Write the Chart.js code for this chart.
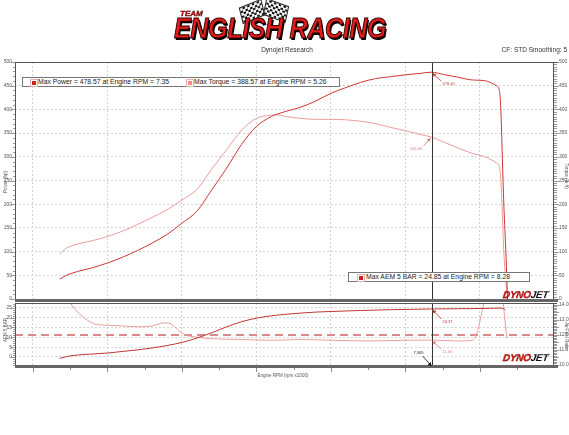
<!DOCTYPE html>
<html>
<head>
<meta charset="utf-8">
<script src="https://cdn.jsdelivr.net/npm/chart.js@4.4.0/dist/chart.umd.min.js"></script>
<style>
body { margin: 0; width: 569px; height: 435px; background: #fff; position: relative; overflow: hidden; font-family: "Liberation Sans", Arial, sans-serif; }
canvas { position: absolute; left: 0; top: 0; }
.t { position: absolute; white-space: nowrap; color: #333; }
.rot { transform: translate(-50%, -50%) rotate(-90deg); font-size: 4.5px; color: #555; }
.rotR { transform: translate(-50%, -50%) rotate(90deg); font-size: 4.5px; color: #555; }
.legend { position: absolute; background: #fff; border: 1px solid #777; box-sizing: border-box; }
.legend .mk { position: absolute; top: 1px; width: 6px; height: 6px; border: 1px solid #e4b0b0; background: #fff; }
.legend .mk i { position: absolute; left: 1px; top: 1px; width: 4px; height: 4px; }
.legend .lt { position: absolute; top: 0; font-size: 6.8px; line-height: 8px; color: #222; }
.dj { position: absolute; font-weight: bold; font-style: italic; font-size: 10px; line-height: 10px; letter-spacing: -0.3px; transform: skewX(-8deg); }
.dj b { color: #e01818; -webkit-text-stroke: 0.3px #600; }
.dj span { color: #111; }
.logo { position: absolute; left: 174px; top: 14px; font-weight: bold; font-style: italic; font-size: 28px; line-height: 28px; color: #e21b1b; -webkit-text-stroke: 1px #2a0000; text-shadow: 1.5px 1.5px 0 #000; transform-origin: 0 0; transform: scale(0.9, 1.05); letter-spacing: -0.5px; }
.team { position: absolute; left: 180px; top: 9px; font-weight: bold; font-style: italic; font-size: 8px; color: #e21b1b; -webkit-text-stroke: 0.4px #300; }
.flag { position: absolute; width: 22px; height: 15px; background: repeating-conic-gradient(#111 0 25%, #f4f4f4 0 50%) 0 0 / 5px 5px; border: 1px solid #222; }
</style>
</head>
<body>
<canvas id="topChart" width="569" height="435"></canvas>
<canvas id="bottomChart" width="569" height="435"></canvas>

<div class="flag" style="left:240px;top:3px;transform:rotate(-14deg) skewY(-8deg);"></div>
<div class="flag" style="left:264px;top:2px;transform:rotate(12deg) skewY(8deg);"></div>
<div class="team">TEAM</div>
<div class="logo">ENGLISH RACING</div>

<div class="t" style="left:287px;top:46px;transform:translateX(-50%);font-size:6.5px;">Dynojet Research</div>
<div class="t" style="right:2px;top:46px;font-size:6.5px;">CF: STD Smoothing: 5</div>

<div class="t rot" style="left:5px;top:182px;">Power (hp)</div>
<div class="t rotR" style="left:566px;top:176px;">Torque (lb·ft)</div>
<div class="t rot" style="left:5px;top:330px;">AEM 5 BAR</div>
<div class="t rotR" style="left:566px;top:336px;">Air/Fuel Ratio</div>
<div class="t" style="left:283px;top:373px;transform:translateX(-50%);font-size:4.5px;color:#555;">Engine RPM (rpm x1000)</div>

<div class="legend" style="left:22px;top:77px;width:318px;height:10px;">
  <span class="mk" style="left:7px;"><i style="background:#d42020"></i></span>
  <span class="lt" style="left:15px;">Max Power = 478.57 at Engine RPM = 7.35</span>
  <span class="mk" style="left:163px;"><i style="background:#f08a8a"></i></span>
  <span class="lt" style="left:171px;">Max Torque = 388.57 at Engine RPM = 5.26</span>
</div>
<div class="legend" style="left:348px;top:272px;width:182px;height:10px;">
  <span class="mk" style="left:8px;"><i style="background:#d42020"></i></span>
  <span class="lt" style="left:17px;">Max AEM 5 BAR = 24.85 at Engine RPM = 8.28</span>
</div>

<div class="dj" style="left:503px;top:290px;"><b>DYNO</b><span>JET</span></div>
<div class="dj" style="left:503px;top:353px;"><b>DYNO</b><span>JET</span></div>

<script>
// engine speed in rpm x1000, shared by power and torque
const rpm = [2.36, 2.45, 2.6, 2.8, 3.0, 3.2, 3.4, 3.6, 3.8, 4.0, 4.2, 4.4, 4.6, 4.8, 5.0, 5.2, 5.26, 5.4, 5.6, 5.8,
	6.0, 6.2, 6.4, 6.6, 6.8, 7.0, 7.2, 7.35, 7.5, 7.7, 7.9, 8.05, 8.15, 8.22, 8.26, 8.28, 8.3, 8.32, 8.35, 8.37];
const power = [42, 50, 58, 66, 76, 88, 102, 118, 136, 160, 185, 230, 276, 326, 364, 385, 389, 396, 405, 418,
	434, 446, 457, 465, 469, 473, 476, 478.57, 474, 468, 462, 461, 456, 450, 440, 400, 300, 200, 90, 0];
const torque = [94, 107, 116, 123, 132, 143, 157, 172, 188, 209, 231, 274, 315, 356, 381, 388, 388.57, 385, 381, 379,
	379, 378, 375, 370, 362, 355, 347, 341.65, 332, 319, 307, 301, 294, 287, 279, 250, 180, 100, 30, 0];

// lower panel: boost (AEM 5 BAR) and air/fuel ratio
const boostRpm = [2.36, 2.45, 2.6, 2.8, 3.0, 3.2, 3.4, 3.6, 3.8, 4.0, 4.2, 4.4, 4.6, 4.8, 5.0, 5.2, 5.4, 5.6, 5.8,
	6.0, 6.4, 6.8, 7.35, 7.7, 8.0, 8.2, 8.28, 8.34];
const boost = [-0.7, 0.2, 1.0, 1.5, 2.0, 2.8, 3.6, 4.6, 5.8, 7.4, 9.6, 12.3, 15.3, 17.9, 19.7, 20.9, 21.7, 22.3, 22.8,
	23.1, 23.6, 24.0, 24.37, 24.5, 24.6, 24.75, 24.85, 24.0];
const afrRpm = [2.36, 2.45, 2.55, 2.7, 2.85, 3.0, 3.2, 3.4, 3.6, 3.75, 3.85, 3.95, 4.05, 4.2, 4.4, 4.8, 5.2, 5.6,
	6.0, 6.5, 7.0, 7.35, 7.7, 7.9, 7.97, 8.02, 8.06, 8.1, 8.3, 8.33, 8.36];
const afr = [15.5, 14.6, 13.8, 13.1, 12.7, 12.65, 12.6, 12.55, 12.6, 12.8, 12.75, 12.3, 12.0, 11.85, 11.75, 11.7,
	11.65, 11.7, 11.65, 11.6, 11.65, 11.66, 11.6, 11.65, 12.3, 13.4, 14.3, 14.6, 14.6, 13.2, 11.8];
const afrTarget = 12.0;

// axes and tick labels
const rpmMin = 1.76;
const rpmMax = 8.98;
const rpmTicks = [2, 3, 4, 5, 6, 7, 8];
const powerTicks = [0, 50, 100, 150, 200, 250, 300, 350, 400, 450, 500];
const boostTicks = [0, 5, 10, 15, 20, 25];
const afrTicks = [10, 10.5, 11, 11.5, 12, 12.5, 13, 13.5, 14];

// cursor readout
const cursorRpm = 7.35;
const cursorLabel = '7.349';
const cursorPower = 478.46;
const cursorTorque = 341.65;
const cursorBoost = 24.37;
const cursorAfr = 11.66;

const tickFont = { family: 'Liberation Sans', size: 5 };
const gridColor = '#d2d2d2';

function toPoints(xs, ys) {
	return xs.map((x, i) => ({ x, y: ys[i] }));
}

function eachStep(min, max, step, fn) {
	const n0 = Math.ceil(min / step - 1e-9);
	const n1 = Math.floor(max / step + 1e-9);
	for (let n = n0; n <= n1; n++) fn(n * step, n);
}

function arrow(ctx, x0, y0, x1, y1, color) {
	ctx.strokeStyle = color;
	ctx.fillStyle = color;
	ctx.lineWidth = 0.8;
	ctx.beginPath();
	ctx.moveTo(x0, y0);
	ctx.lineTo(x1, y1);
	ctx.stroke();
	const ang = Math.atan2(y1 - y0, x1 - x0);
	const s = 4;
	ctx.beginPath();
	ctx.moveTo(x1, y1);
	ctx.lineTo(x1 - s * Math.cos(ang - 0.5), y1 - s * Math.sin(ang - 0.5));
	ctx.lineTo(x1 - s * Math.cos(ang + 0.5), y1 - s * Math.sin(ang + 0.5));
	ctx.closePath();
	ctx.fill();
}

// frame, dense axis ticks, cursor line and readout labels
const panelDeco = {
	id: 'panelDeco',
	afterDatasetsDraw(chart, args, o) {
		const { ctx, chartArea: a } = chart;
		const xs = chart.scales.x;
		const yl = chart.scales[o.left];
		const yr = chart.scales[o.right];
		ctx.save();

		// cursor
		const cx = Math.round(xs.getPixelForValue(cursorRpm)) + 0.5;
		ctx.strokeStyle = '#333';
		ctx.lineWidth = 1;
		ctx.beginPath();
		ctx.moveTo(cx, a.top);
		ctx.lineTo(cx, a.bottom);
		ctx.stroke();

		// frame
		ctx.strokeStyle = '#555';
		ctx.beginPath();
		ctx.moveTo(a.left, a.top + 0.5);
		ctx.lineTo(a.right + 4, a.top + 0.5);
		ctx.moveTo(a.left + 0.5, a.top);
		ctx.lineTo(a.left + 0.5, a.bottom);
		ctx.moveTo(a.right + 0.5, a.top);
		ctx.lineTo(a.right + 0.5, a.bottom);
		ctx.stroke();

		// left ticks
		ctx.lineWidth = 0.6;
		ctx.beginPath();
		eachStep(yl.min, yl.max, o.leftMinor, (v, n) => {
			const y = Math.round(yl.getPixelForValue(v)) + 0.5;
			const len = n % o.leftEvery === 0 ? 4 : 2;
			ctx.moveTo(a.left - len, y);
			ctx.lineTo(a.left, y);
		});
		ctx.stroke();

		// right dense tick band
		ctx.beginPath();
		eachStep(yr.min, yr.max, o.rightMinor, (v, n) => {
			const y = Math.round(yr.getPixelForValue(v)) + 0.5;
			const len = n % o.rightEvery === 0 ? 6 : 4;
			ctx.moveTo(a.right, y);
			ctx.lineTo(a.right + len, y);
		});
		ctx.stroke();

		// bottom band
		ctx.fillStyle = '#666';
		ctx.fillRect(a.left, a.bottom, a.right - a.left + 5, 3);
		if (o.xTicks) {
			ctx.strokeStyle = '#555';
			ctx.lineWidth = 0.7;
			ctx.beginPath();
			eachStep(xs.min, xs.max, 0.5, (v, n) => {
				const x = Math.round(xs.getPixelForValue(v)) + 0.5;
				const len = n % 2 === 0 ? 4 : 2;
				ctx.moveTo(x, a.bottom + 3);
				ctx.lineTo(x, a.bottom + 3 + len);
			});
			ctx.stroke();
		}

		// readouts
		ctx.font = '4px "Liberation Sans"';
		ctx.textBaseline = 'middle';
		o.notes.forEach((n) => {
			const px = xs.getPixelForValue(cursorRpm);
			const py = chart.scales[n.axis].getPixelForValue(n.value);
			ctx.textAlign = n.dx > 0 ? 'left' : 'right';
			ctx.fillStyle = n.color;
			ctx.fillText(n.text, px + n.dx, py + n.dy);
			arrow(ctx, px + n.dx * 0.9, py + n.dy - 3, px + (n.dx > 0 ? 1 : -1), py + 1, n.color);
		});
		if (o.cursorText) {
			const px = xs.getPixelForValue(cursorRpm);
			ctx.fillStyle = '#111';
			ctx.textAlign = 'right';
			ctx.fillText(cursorLabel, px - 8, a.bottom - 12);
			arrow(ctx, px - 9, a.bottom - 9, px, a.bottom + 1, '#111');
		}
		ctx.restore();
	},
};

function xAxis(showLabels) {
	return {
		type: 'linear',
		min: rpmMin,
		max: rpmMax,
		afterBuildTicks: (s) => { s.ticks = rpmTicks.map((v) => ({ value: v })); },
		afterFit: (s) => { s.height = 0; },
		ticks: { display: showLabels, font: tickFont, color: '#444', padding: 3 },
		grid: { color: gridColor, drawTicks: false },
		border: { display: false, dash: [2, 2] },
	};
}

function yAxis(pos, min, max, ticks, width, withGrid, fmt) {
	return {
		type: 'linear',
		position: pos,
		min,
		max,
		afterBuildTicks: (s) => { s.ticks = ticks.map((v) => ({ value: v })); },
		afterFit: (s) => { s.width = width; },
		ticks: {
			font: tickFont,
			color: '#555',
			padding: pos === 'left' ? 3 : 6,
			callback: fmt || ((v) => v),
		},
		grid: { display: withGrid, color: gridColor, drawTicks: false },
		border: { display: false, dash: [2, 2] },
	};
}

new Chart(document.getElementById('topChart'), {
	type: 'line',
	data: {
		datasets: [
			{
				label: 'Power',
				data: toPoints(rpm, power),
				borderColor: '#cf3434',
				borderWidth: 1,
				pointRadius: 0,
				cubicInterpolationMode: 'monotone',
				yAxisID: 'yPower',
			},
			{
				label: 'Torque',
				data: toPoints(rpm, torque),
				borderColor: '#eb9c9c',
				borderWidth: 1,
				pointRadius: 0,
				cubicInterpolationMode: 'monotone',
				yAxisID: 'yTorque',
			},
		],
	},
	options: {
		responsive: false,
		animation: false,
		events: [],
		layout: { padding: { top: 62, bottom: 136, left: 0, right: 0 } },
		plugins: {
			legend: { display: false },
			tooltip: { enabled: false },
			panelDeco: {
				left: 'yPower',
				right: 'yTorque',
				leftMinor: 10,
				leftEvery: 5,
				rightMinor: 5,
				rightEvery: 10,
				xTicks: false,
				cursorText: false,
				notes: [
					{ axis: 'yPower', value: cursorPower, text: String(cursorPower), color: '#d03a3a', dx: 11, dy: 12 },
					{ axis: 'yTorque', value: cursorTorque, text: String(cursorTorque), color: '#e07676', dx: -9, dy: 12 },
				],
			},
		},
		scales: {
			x: xAxis(false),
			yPower: yAxis('left', 0, 500, powerTicks, 15, true),
			yTorque: yAxis('right', 0, 500, powerTicks, 16, false),
		},
	},
	plugins: [panelDeco],
});

new Chart(document.getElementById('bottomChart'), {
	type: 'line',
	data: {
		datasets: [
			{
				label: 'AEM 5 BAR',
				data: toPoints(boostRpm, boost),
				borderColor: '#c23434',
				borderWidth: 1,
				pointRadius: 0,
				cubicInterpolationMode: 'monotone',
				yAxisID: 'yBoost',
				order: 1,
			},
			{
				label: 'Air/Fuel Ratio',
				data: toPoints(afrRpm, afr),
				borderColor: '#eb9c9c',
				borderWidth: 1,
				pointRadius: 0,
				cubicInterpolationMode: 'monotone',
				yAxisID: 'yAfr',
				order: 2,
			},
			{
				label: 'Target',
				data: toPoints([rpmMin, rpmMax], [afrTarget, afrTarget]),
				borderColor: '#d98a8a',
				borderWidth: 2,
				borderDash: [8, 5],
				pointRadius: 0,
				yAxisID: 'yAfr',
				order: 3,
			},
		],
	},
	options: {
		responsive: false,
		animation: false,
		events: [],
		layout: { padding: { top: 303, bottom: 70, left: 0, right: 0 } },
		plugins: {
			legend: { display: false },
			tooltip: { enabled: false },
			panelDeco: {
				left: 'yBoost',
				right: 'yAfr',
				leftMinor: 1,
				leftEvery: 5,
				rightMinor: 0.1,
				rightEvery: 5,
				xTicks: true,
				cursorText: true,
				notes: [
					{ axis: 'yBoost', value: cursorBoost, text: String(cursorBoost), color: '#c83030', dx: 11, dy: 13 },
					{ axis: 'yAfr', value: cursorAfr, text: String(cursorAfr), color: '#e58080', dx: 11, dy: 12 },
				],
			},
		},
		scales: {
			x: xAxis(true),
			yBoost: yAxis('left', -4.06, 27.4, boostTicks, 15, true),
			yAfr: yAxis('right', 10, 14.13, afrTicks, 16, false, (v) => v.toFixed(1)),
		},
	},
	plugins: [panelDeco],
});
</script>
</body>
</html>
